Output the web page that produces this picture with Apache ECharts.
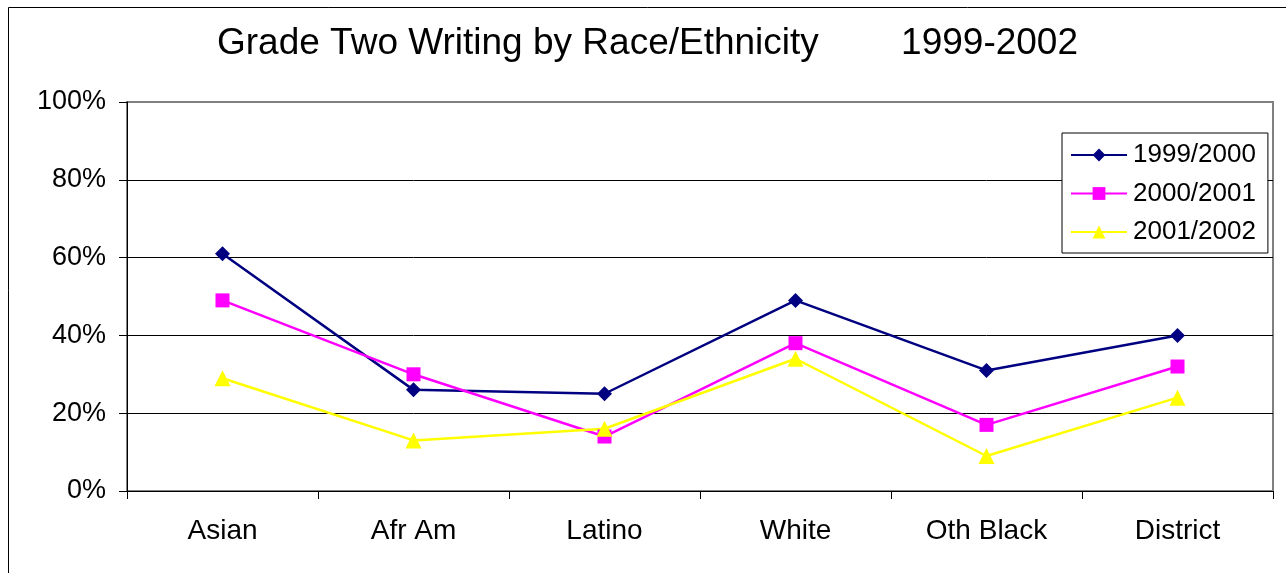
<!DOCTYPE html>
<html>
<head>
<meta charset="utf-8">
<script src="https://cdn.jsdelivr.net/npm/echarts@6/dist/echarts.min.js"></script>
<style>
html,body{margin:0;padding:0;background:#fff;}
#main{width:1286px;height:573px;}
</style>
</head>
<body>
<div id="main"></div>
<script>
const categories = ['Asian', 'Afr Am', 'Latino', 'White', 'Oth Black', 'District'];
const seriesNames = ['1999/2000', '2000/2001', '2001/2002'];
const values1999 = [61, 26, 25, 49, 31, 40];
const values2000 = [49, 30, 14, 38, 17, 32];
const values2001 = [29, 13, 16, 34, 9, 24];
const yTicks = [0, 20, 40, 60, 80, 100];

const font = '"Liberation Sans", Arial, sans-serif';
const chart = echarts.init(document.getElementById('main'), null, {renderer: 'canvas'});

function mkSeries(name, data, color, symbol, size) {
  return {
    name: name, type: 'line', data: data,
    symbol: symbol, symbolSize: size,
    lineStyle: {color: color, width: 2.5},
    itemStyle: {color: color},
    emphasis: {disabled: true},
    z: 3
  };
}

chart.setOption({
  animation: false,
  backgroundColor: '#fff',
  graphic: [{
    type: 'rect', silent: true, z: -1,
    shape: {x: 8.5, y: 7.5, width: 1400, height: 700},
    style: {fill: 'none', stroke: '#000', lineWidth: 1}
  }],
  title: {
    text: 'Grade Two Writing by Race/Ethnicity        1999-2002',
    left: 212, top: 20,
    textStyle: {fontFamily: font, fontSize: 37, fontWeight: 'normal', color: '#000'}
  },
  legend: {
    orient: 'vertical', left: 1062, top: 133, width: 205,
    padding: [9, 12, 8, 8], itemGap: 12.5,
    itemWidth: 56, itemHeight: 16,
    backgroundColor: '#fff', borderColor: '#000', borderWidth: 1,
    textStyle: {fontFamily: font, fontSize: 26, lineHeight: 26, color: '#000', padding: [0, 0, 0, 1]},
    data: seriesNames
  },
  grid: {left: 127, right: 13, top: 102, bottom: 82, show: true, borderColor: '#808080', borderWidth: 2, backgroundColor: 'transparent'},
  xAxis: {
    type: 'category', data: categories, boundaryGap: true,
    axisLine: {lineStyle: {color: '#000', width: 1}},
    axisTick: {show: true, length: 8, lineStyle: {color: '#000'}},
    axisLabel: {fontFamily: font, fontSize: 28, color: '#000', margin: 26}
  },
  yAxis: {
    type: 'value', min: 0, max: 100, interval: 20,
    axisLine: {show: true, lineStyle: {color: '#000', width: 1}},
    axisTick: {show: true, length: 8, lineStyle: {color: '#000'}},
    axisLabel: {fontFamily: font, fontSize: 27, color: '#000', margin: 21, formatter: '{value}%'},
    splitLine: {lineStyle: {color: ['#000', '#000', '#000', '#000', '#000', '#808080'], width: 1}}
  },
  series: [
    mkSeries(seriesNames[0], values1999, '#000080', 'diamond', 15),
    mkSeries(seriesNames[1], values2000, '#FF00FF', 'rect', 14),
    mkSeries(seriesNames[2], values2001, '#FFFF00', 'triangle', 16)
  ]
});
</script>
</body>
</html>
